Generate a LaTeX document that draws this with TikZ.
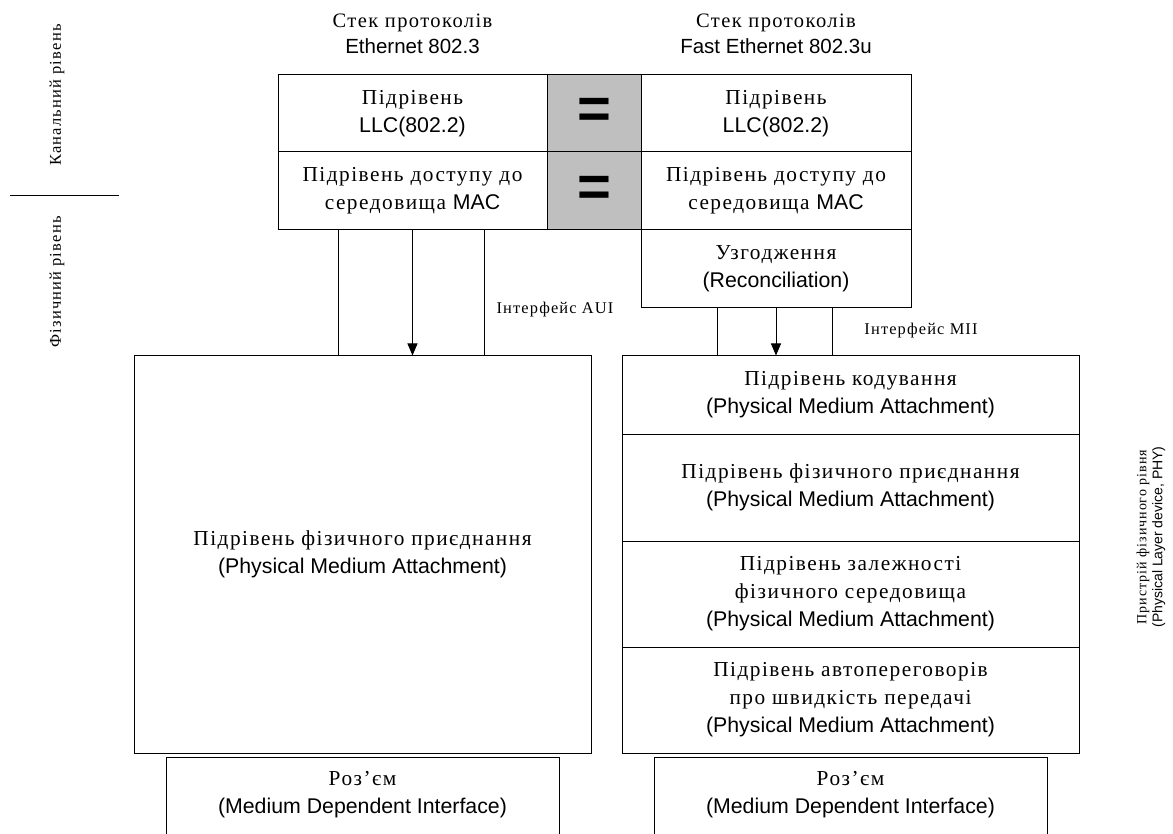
\documentclass[tikz,border=0pt]{standalone}
\usepackage{fontspec}
\setmainfont{Liberation Serif}[LetterSpace=7]
\newfontfamily\latfont{Liberation Sans}
\usetikzlibrary{arrows.meta,positioning}

\begin{document}
\begin{tikzpicture}[x=1pt,y=-1pt,
  layerbox/.style={draw, line width=1pt, inner sep=0pt, align=center, font=\fontsize{21.3}{28}\selectfont},
  eqbox/.style={layerbox, fill=gray!50, font=\latfont\bfseries\fontsize{58}{58}\selectfont},
  toptext/.style={align=center, font=\fontsize{20.5}{26}\selectfont},
  sidetext/.style={rotate=90, align=center, font=\fontsize{16.5}{18}\selectfont},
  phytext/.style={rotate=90, align=center, font=\fontsize{14}{16}\selectfont},
  ifacetext/.style={font=\fontsize{16.4}{18}\selectfont},
  link/.style={line width=1pt},
  arrowlink/.style={link, -{Triangle[width=10pt,length=12pt]}}]
\useasboundingbox (0,0) rectangle (1173,834);

% side labels
\node[sidetext] (datalink) at (57,95) {Канальний рівень};
\node[sidetext] (physical) at (57,282) {Фізичний рівень};
\draw[link] (10,196) -- (119,196);
\node[phytext] (phydev) at (1151,537) {Пристрій фізичного рівня\\{\latfont (Physical Layer device, PHY)}};

% stack titles
\node[toptext] (titleA) at (412.5,34) {Стек протоколів\\{\latfont Ethernet 802.3}};
\node[toptext] (titleB) at (776,34) {Стек протоколів\\{\latfont Fast Ethernet 802.3u}};

% Ethernet 802.3
\node[layerbox, minimum width=269pt, minimum height=77pt] (llcA) at (412.5,113.5) {Підрівень\\{\latfont LLC(802.2)}};
\node[layerbox, minimum width=269pt, minimum height=78pt] (macA) at (412.5,191) {Підрівень доступу до\\середовища {\latfont MAC}};
\node[eqbox, minimum width=94pt, minimum height=77pt] (eqA) at (594,113.5) {=};
\node[eqbox, minimum width=94pt, minimum height=78pt] (eqB) at (594,191) {=};
\node[layerbox, minimum width=457pt, minimum height=397pt] (pmaA) at (362.5,554.5) {Підрівень фізичного приєднання\\{\latfont (Physical Medium Attachment)}};
\node[layerbox, minimum width=393pt, minimum height=88pt] (mdiA) at (362.5,801) {};
\node[layerbox, draw=none] (mdiAtext) at (362.5,795) {Роз’єм\\{\latfont (Medium Dependent Interface)}};

% Fast Ethernet 802.3u
\node[layerbox, minimum width=270pt, minimum height=77pt] (llcB) at (776,113.5) {Підрівень\\{\latfont LLC(802.2)}};
\node[layerbox, minimum width=270pt, minimum height=78pt] (macB) at (776,191) {Підрівень доступу до\\середовища {\latfont MAC}};
\node[layerbox, minimum width=270pt, minimum height=78pt] (recB) at (776,269) {Узгодження\\{\latfont (Reconciliation)}};
\node[layerbox, minimum width=457pt, minimum height=78pt] (codB) at (850.5,395) {Підрівень кодування\\{\latfont (Physical Medium Attachment)}};
\node[layerbox, minimum width=457pt, minimum height=107pt] (attB) at (850.5,487.5) {Підрівень фізичного приєднання\\{\latfont (Physical Medium Attachment)}};
\node[layerbox, minimum width=457pt, minimum height=106pt] (depB) at (850.5,594) {Підрівень залежності\\фізичного середовища\\{\latfont (Physical Medium Attachment)}};
\node[layerbox, minimum width=457pt, minimum height=106pt] (negB) at (850.5,700) {Підрівень автопереговорів\\про швидкість передачі\\{\latfont (Physical Medium Attachment)}};
\node[layerbox, minimum width=393pt, minimum height=88pt] (mdiB) at (850.5,801) {};
\node[layerbox, draw=none] (mdiBtext) at (850.5,795) {Роз’єм\\{\latfont (Medium Dependent Interface)}};

% interfaces
\draw[link] ([xshift=-74pt]macA.south) -- ([xshift=-74pt]macA.south |- pmaA.north);
\draw[arrowlink] (macA.south) -- (macA.south |- pmaA.north);
\draw[link] ([xshift=72pt]macA.south) -- ([xshift=72pt]macA.south |- pmaA.north);
\node[ifacetext] (aui) at (555,310) {Інтерфейс AUI};
\draw[link] ([xshift=-59pt]recB.south) -- ([xshift=-59pt]recB.south |- codB.north);
\draw[arrowlink] (recB.south) -- (recB.south |- codB.north);
\draw[link] ([xshift=56pt]recB.south) -- ([xshift=56pt]recB.south |- codB.north);
\node[ifacetext] (mii) at (921,331) {Інтерфейс MII};
\end{tikzpicture}
\end{document}
